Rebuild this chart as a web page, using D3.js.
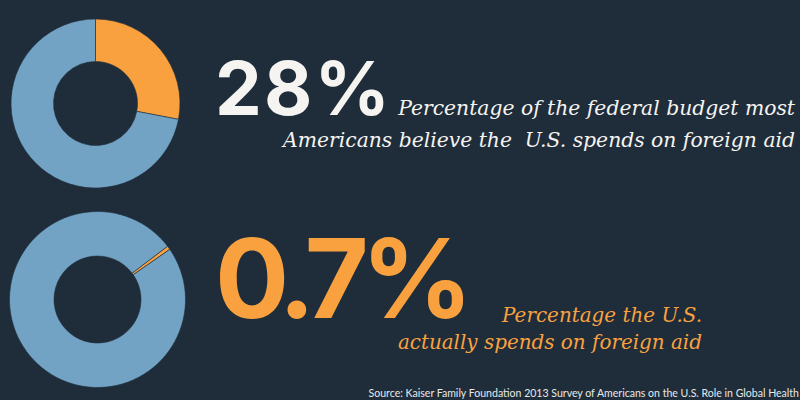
<!DOCTYPE html>
<html>
<head>
<meta charset="utf-8">
<script src="https://cdn.jsdelivr.net/npm/d3@7"></script>
<style>
  html, body { margin: 0; padding: 0; background: #1f2d3b; }
  svg { display: block; }
  text { white-space: pre; }
</style>
</head>
<body>
<svg id="chart" width="800" height="400"></svg>
<script>
// values
const shares = [28, 0.7];                    // % of federal budget
const bigLabels = ["28%", "0.7%"];
const captionLines = [
  ["Percentage of the federal budget most", "Americans believe the  U.S. spends on foreign aid"],
  ["Percentage the U.S.", "actually spends on foreign aid"]
];
const sourceText = "Source: Kaiser Family Foundation 2013 Survey of Americans on the U.S. Role in Global Health";

const bg = "#1f2d3b", blue = "#73a3c4", orange = "#f9a13e", white = "#f6f4f0";

const svg = d3.select("#chart");
svg.append("rect").attr("width", 800).attr("height", 400).attr("fill", bg);

// donut layout for each row
const rows = [
  {cx: 95.5, cy: 103.5, r: 84.5, ri: 42, rot: 0,
   num: {x: 215, y: 115, cap: 54, w: 175, color: white},
   cap: {right: 795, y: [115, 147], w: 397, color: white, fitLine: 0}},
  {cx: 97.5, cy: 299.5, r: 88, ri: 43.5, rot: 54,
   num: {x: 215, y: 318, cap: 80, w: 258, color: orange},
   cap: {right: 702, y: [322, 349], w: 200, color: orange, fitLine: 0}}
];

const arc = d3.arc();

rows.forEach((row, i) => {
  const v = shares[i];
  // centre the small slice on its rotation angle (top one starts at 12 o'clock)
  let start = row.rot * Math.PI / 180;
  if (row.rot) start -= (v / 100) * Math.PI;
  const pie = d3.pie().sort(null).value(d => d)
    .startAngle(start).endAngle(start + 2 * Math.PI);
  const slices = pie([v, 100 - v]);

  svg.append("g")
    .attr("transform", `translate(${row.cx},${row.cy})`)
    .selectAll("path")
    .data(slices)
    .enter().append("path")
      .attr("d", d => arc.innerRadius(row.ri).outerRadius(row.r)(d))
      .attr("fill", (d, j) => j == 0 ? orange : blue)
      .attr("stroke", bg)
      .attr("stroke-width", 0.6);

  // big number: size from cap height, spacing to match width
  const num = svg.append("text")
    .attr("x", row.num.x).attr("y", row.num.y)
    .attr("fill", row.num.color)
    .style("font-family", "Inter, 'Open Sans', sans-serif")
    .style("font-weight", 700)
    .style("font-size", (row.num.cap / 0.727) + "px")
    .text(bigLabels[i]);
  const natural = num.node().getComputedTextLength();
  const n = bigLabels[i].length;
  num.style("letter-spacing", ((row.num.w - natural) / (n - 1)) + "px");

  // italic serif caption, right aligned
  const lines = captionLines[i].map((t, k) => svg.append("text")
    .attr("x", row.cap.right).attr("y", row.cap.y[k])
    .attr("text-anchor", "end")
    .attr("fill", row.cap.color)
    .style("font-family", "'DejaVu Serif', serif")
    .style("font-style", "italic")
    .style("font-size", "20px")
    .text(t));
  const wFit = lines[row.cap.fitLine].node().getComputedTextLength();
  const fs = 20 * row.cap.w / wFit;
  lines.forEach(l => l.style("font-size", fs + "px"));
});

// source line
const src = svg.append("text")
  .attr("x", 799).attr("y", 397)
  .attr("text-anchor", "end")
  .attr("fill", "#e8e8e8")
  .style("font-family", "Lato, sans-serif")
  .style("font-size", "10px")
  .text(sourceText);
const sw = src.node().getComputedTextLength();
src.style("font-size", (10 * 431 / sw) + "px");
</script>
</body>
</html>
